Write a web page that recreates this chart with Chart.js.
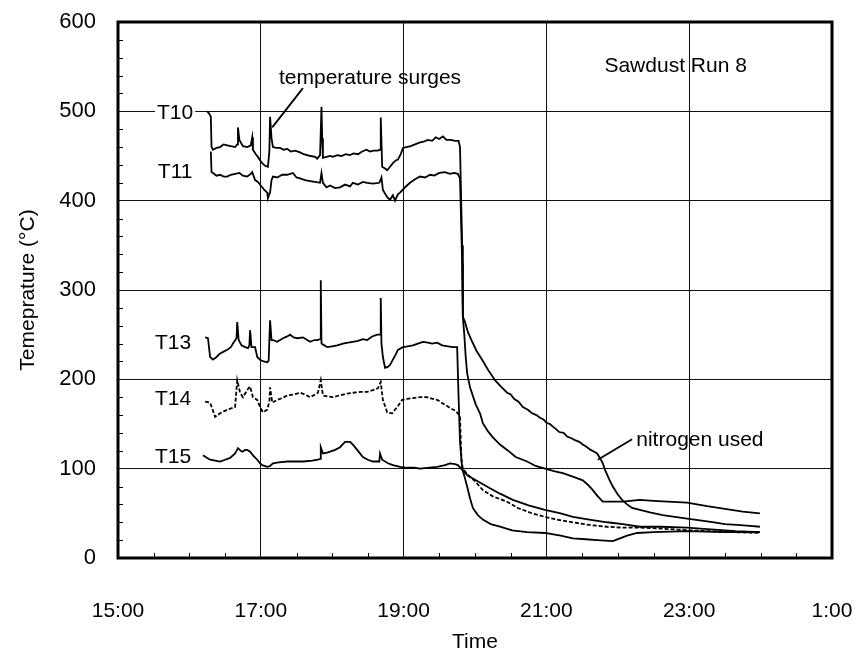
<!DOCTYPE html>
<html>
<head>
<meta charset="utf-8">
<script src="https://cdn.jsdelivr.net/npm/chart.js@4/dist/chart.umd.min.js"></script>
<style>
    html, body { margin: 0; padding: 0; background: #fff; }
    #wrap { width: 861px; height: 658px; }
</style>
</head>
<body>
<div id="wrap"><canvas id="runChart" width="861" height="658"></canvas></div>
<script>
// time is in decimal hours, 25 = 1:00 next day
const t10Hours = [16.25, 16.28, 16.30, 16.31, 16.33, 16.38, 16.43, 16.48, 16.53, 16.58, 16.64, 16.67, 16.68, 16.70, 16.75, 16.81, 16.86, 16.88, 16.89, 16.93, 16.96, 17.00, 17.02, 17.06, 17.10, 17.12, 17.13, 17.15, 17.17, 17.22, 17.27, 17.32, 17.37, 17.42, 17.48, 17.55, 17.60, 17.65, 17.70, 17.76, 17.79, 17.83, 17.85, 17.86, 17.87, 17.92, 17.97, 18.01, 18.07, 18.13, 18.19, 18.25, 18.30, 18.36, 18.42, 18.48, 18.53, 18.58, 18.64, 18.67, 18.68, 18.70, 18.74, 18.77, 18.81, 18.85, 18.89, 18.92, 18.96, 18.99, 19.04, 19.10, 19.16, 19.22, 19.28, 19.34, 19.40, 19.45, 19.50, 19.55, 19.60, 19.66, 19.72, 19.77, 19.79, 19.82, 19.83, 19.86, 19.90, 19.95, 20.02, 20.10, 20.18, 20.28, 20.36, 20.45, 20.50, 20.55, 20.61, 20.67, 20.74, 20.80, 20.86, 20.91, 20.96, 21.01, 21.05, 21.09, 21.14, 21.18, 21.24, 21.29, 21.35, 21.40, 21.46, 21.51, 21.57, 21.62, 21.67, 21.71, 21.75, 21.79, 21.82, 21.88, 21.93, 22.00, 22.06, 22.13, 22.20, 22.31, 22.45, 22.63, 22.80, 22.97, 23.15, 23.35, 23.50, 23.67, 23.85, 23.99];
const t10Temp = [500, 497, 494, 460, 457, 459, 460, 463, 462, 461, 460, 463, 482, 468, 461, 460, 462, 471, 457, 452, 449, 444, 442, 439, 438, 455, 494, 470, 460, 459, 459, 457, 458, 455, 456, 454, 452, 451, 450, 449, 447, 451, 505, 470, 448, 449, 450, 449, 451, 450, 452, 451, 453, 452, 455, 457, 455, 456, 456, 457, 493, 438, 436, 434, 438, 442, 445, 446, 452, 459, 460, 461, 463, 465, 466, 468, 467, 471, 469, 472, 468, 468, 467, 467, 460, 350, 270, 264, 253, 244, 232, 222, 211, 199, 192, 185, 183, 178, 175, 169, 166, 162, 160, 157, 155, 151, 150, 147, 144, 141, 140, 136, 134, 132, 130, 127, 124, 121, 119, 117, 112, 106, 99, 88, 80, 71, 65, 60, 56, 54, 51, 48, 46, 44, 42, 40, 38, 37, 36, 35];

const t11Hours = [16.30, 16.31, 16.33, 16.38, 16.43, 16.48, 16.53, 16.58, 16.64, 16.70, 16.75, 16.81, 16.86, 16.88, 16.92, 16.96, 17.00, 17.05, 17.09, 17.10, 17.13, 17.15, 17.17, 17.23, 17.30, 17.37, 17.45, 17.50, 17.55, 17.62, 17.69, 17.76, 17.83, 17.85, 17.87, 17.92, 17.97, 18.04, 18.11, 18.18, 18.25, 18.29, 18.36, 18.43, 18.49, 18.57, 18.66, 18.69, 18.71, 18.77, 18.81, 18.85, 18.88, 18.92, 18.95, 19.02, 19.09, 19.16, 19.23, 19.30, 19.37, 19.43, 19.50, 19.58, 19.65, 19.71, 19.76, 19.79, 19.82, 19.83, 19.85, 19.87, 19.89, 19.93, 20.01, 20.07, 20.11, 20.18, 20.25, 20.35, 20.45, 20.57, 20.73, 20.85, 20.98, 21.12, 21.23, 21.37, 21.51, 21.58, 21.65, 21.72, 21.79, 21.90, 22.07, 22.31, 22.50, 22.70, 22.97, 23.25, 23.50, 23.75, 23.99];
const t11Temp = [455, 432, 431, 428, 429, 427, 427, 429, 430, 431, 428, 427, 430, 432, 423, 421, 417, 412, 409, 403, 409, 423, 427, 426, 429, 429, 431, 426, 425, 423, 422, 421, 420, 431, 420, 415, 417, 414, 415, 418, 416, 420, 418, 421, 420, 419, 420, 426, 412, 404, 401, 406, 400, 407, 409, 415, 420, 424, 427, 426, 429, 428, 431, 432, 430, 431, 430, 425, 330, 270, 250, 225, 207, 191, 172, 162, 151, 142, 135, 127, 121, 113, 108, 103, 100, 97, 95, 91, 87, 82, 76, 69, 63, 63, 63, 65, 64, 63, 62, 58, 55, 52, 50];

const t13Hours = [16.22, 16.26, 16.28, 16.29, 16.33, 16.38, 16.43, 16.48, 16.53, 16.58, 16.61, 16.66, 16.67, 16.69, 16.73, 16.78, 16.82, 16.84, 16.85, 16.87, 16.92, 16.95, 16.99, 17.04, 17.09, 17.11, 17.13, 17.15, 17.17, 17.23, 17.31, 17.37, 17.41, 17.46, 17.51, 17.59, 17.65, 17.69, 17.75, 17.79, 17.83, 17.84, 17.85, 17.89, 17.93, 18.00, 18.07, 18.15, 18.22, 18.29, 18.36, 18.43, 18.49, 18.56, 18.63, 18.67, 18.68, 18.69, 18.71, 18.74, 18.78, 18.81, 18.85, 18.89, 18.92, 18.99, 19.06, 19.13, 19.20, 19.27, 19.34, 19.40, 19.47, 19.54, 19.62, 19.69, 19.75, 19.77, 19.79, 19.82, 19.85, 19.89, 19.93, 19.97, 20.04, 20.11, 20.22, 20.35, 20.52, 20.73, 20.98, 21.20, 21.37, 21.55, 21.71, 21.93, 22.03, 22.13, 22.27, 22.50, 22.97, 23.50, 23.99];
const t13Temp = [247, 246, 232, 225, 222, 225, 229, 231, 233, 236, 240, 246, 264, 244, 238, 236, 235, 238, 255, 236, 236, 225, 222, 220, 219, 221, 266, 244, 244, 242, 246, 248, 250, 247, 246, 247, 244, 242, 244, 244, 245, 311, 240, 238, 236, 237, 238, 240, 241, 242, 243, 245, 244, 248, 250, 250, 291, 240, 225, 213, 214, 216, 222, 228, 233, 236, 237, 238, 240, 242, 241, 240, 241, 238, 237, 236, 236, 180, 130, 100, 92, 80, 67, 56, 48, 43, 38, 35, 31, 29, 28, 25, 22, 21, 20, 19, 22, 25, 28, 29, 30, 29, 29];

const t14Hours = [16.22, 16.29, 16.33, 16.36, 16.43, 16.53, 16.64, 16.67, 16.71, 16.75, 16.81, 16.85, 16.89, 16.95, 16.99, 17.03, 17.09, 17.12, 17.13, 17.16, 17.23, 17.30, 17.37, 17.45, 17.55, 17.62, 17.69, 17.76, 17.80, 17.84, 17.87, 17.93, 18.01, 18.10, 18.20, 18.29, 18.40, 18.49, 18.57, 18.64, 18.68, 18.71, 18.77, 18.84, 18.91, 18.98, 19.05, 19.13, 19.23, 19.33, 19.41, 19.47, 19.55, 19.65, 19.72, 19.76, 19.79, 19.81, 19.83, 19.90, 20.00, 20.11, 20.25, 20.45, 20.60, 20.80, 20.98, 21.15, 21.37, 21.60, 21.85, 22.07, 22.31, 22.60, 22.97, 23.30, 23.60, 23.99];
const t14Temp = [175, 174, 165, 158, 162, 166, 169, 199, 185, 180, 188, 192, 180, 177, 169, 163, 166, 175, 191, 174, 177, 179, 182, 183, 185, 183, 180, 183, 185, 199, 182, 181, 180, 182, 184, 185, 186, 186, 188, 190, 197, 177, 163, 162, 169, 177, 178, 179, 180, 180, 178, 177, 173, 168, 165, 162, 158, 110, 100, 93, 86, 76, 69, 63, 56, 50, 46, 43, 40, 37, 35, 34, 34, 33, 31, 30, 29, 28];

const t15Hours = [16.19, 16.25, 16.29, 16.36, 16.43, 16.50, 16.57, 16.64, 16.68, 16.72, 16.74, 16.78, 16.81, 16.85, 16.90, 16.95, 16.99, 17.02, 17.09, 17.13, 17.17, 17.25, 17.37, 17.50, 17.60, 17.72, 17.80, 17.83, 17.84, 17.87, 17.93, 17.97, 18.04, 18.11, 18.18, 18.25, 18.30, 18.35, 18.40, 18.43, 18.50, 18.57, 18.64, 18.66, 18.67, 18.70, 18.78, 18.85, 18.95, 19.05, 19.15, 19.23, 19.33, 19.47, 19.58, 19.65, 19.72, 19.76, 19.82, 19.90, 19.97, 20.08, 20.21, 20.35, 20.53, 20.75, 20.98, 21.20, 21.37, 21.60, 21.85, 22.07, 22.31, 22.60, 22.97, 23.30, 23.65, 23.99];
const t15Temp = [115, 112, 110, 109, 108, 110, 112, 117, 123, 120, 119, 121, 121, 119, 114, 110, 106, 104, 102, 103, 106, 107, 108, 108, 108, 109, 110, 111, 124, 117, 118, 119, 121, 124, 130, 130, 126, 121, 116, 113, 110, 108, 108, 108, 117, 110, 106, 104, 102, 101, 101, 100, 101, 102, 104, 106, 105, 104, 99, 92, 89, 84, 78, 72, 65, 59, 54, 50, 46, 43, 40, 38, 35, 35, 34, 32, 30, 29];

const xTicks = [15, 17, 19, 21, 23, 25];
const yTicks = [0, 100, 200, 300, 400, 500, 600];

// text labels, anchored in data units [hour, temp]
const seriesLabels = [
    { text: 'T10', at: [15.8, 498] },
    { text: 'T11', at: [15.8, 432] },
    { text: 'T13', at: [15.77, 241] },
    { text: 'T14', at: [15.77, 178] },
    { text: 'T15', at: [15.77, 113] },
];
const notes = [
    { text: 'temperature surges', at: [18.53, 537], from: [17.59, 526], to: [17.16, 482] },
    { text: 'nitrogen used', at: [23.15, 132], from: [22.2, 133], to: [21.72, 110] },
    { text: 'Sawdust Run 8', at: [22.81, 550] },
];

const FONT = '"Liberation Sans", Arial, sans-serif';

Chart.defaults.font.family = FONT;
Chart.defaults.font.size = 21;
Chart.defaults.color = '#000';

const toPoints = (hours, temps) => hours.map((h, i) => ({ x: h, y: temps[i] }));

const lineStyle = {
    borderColor: '#000',
    borderWidth: 1.8,
    pointRadius: 0,
    fill: false,
    tension: 0,
};

// keep tick labels from pushing the plot area around
const noLabelPadding = scale => {
    scale.paddingLeft = 0;
    scale.paddingRight = 0;
    scale.paddingTop = 0;
    scale.paddingBottom = 0;
};

/**
 * Frame, minor ticks and text annotations
 */
const decorations = {
    id: 'decorations',
    afterDatasetsDraw(chart) {
        const { ctx, chartArea: a, scales: { x, y } } = chart;
        ctx.save();
        ctx.strokeStyle = '#000';

        // minor ticks pointing into the plot
        ctx.lineWidth = 1;
        ctx.beginPath();
        for (let v = 20; v < 600; v += 20) {
            if (v % 100 === 0) continue;
            const py = Math.round(y.getPixelForValue(v)) + 0.5;
            ctx.moveTo(a.left, py);
            ctx.lineTo(a.left + 5, py);
        }
        for (let h = 15.5; h < 25; h += 0.5) {
            if (h % 2 === 1) continue;
            const px = Math.round(x.getPixelForValue(h)) + 0.5;
            ctx.moveTo(px, a.bottom);
            ctx.lineTo(px, a.bottom - 5);
        }
        ctx.stroke();

        // heavy frame
        ctx.lineWidth = 3;
        ctx.strokeRect(a.left, a.top, a.right - a.left, a.bottom - a.top);

        ctx.fillStyle = '#000';
        ctx.font = '21px ' + FONT;
        ctx.textAlign = 'center';
        ctx.textBaseline = 'middle';
        seriesLabels.concat(notes).forEach(n => {
            const px = x.getPixelForValue(n.at[0]);
            const py = y.getPixelForValue(n.at[1]);
            if (n.text.startsWith('T1')) {
                const w = ctx.measureText(n.text).width;
                ctx.fillStyle = '#fff';
                ctx.fillRect(px - w / 2 - 2, py - 9, w + 4, 18);
                ctx.fillStyle = '#000';
            }
            ctx.fillText(n.text, px, py);
            if (n.from) {
                ctx.lineWidth = 1.8;
                ctx.beginPath();
                ctx.moveTo(x.getPixelForValue(n.from[0]), y.getPixelForValue(n.from[1]));
                ctx.lineTo(x.getPixelForValue(n.to[0]), y.getPixelForValue(n.to[1]));
                ctx.stroke();
            }
        });
        ctx.restore();
    },
};

new Chart(document.getElementById('runChart'), {
    type: 'line',
    data: {
        datasets: [
            { label: 'T10', data: toPoints(t10Hours, t10Temp), ...lineStyle },
            { label: 'T11', data: toPoints(t11Hours, t11Temp), ...lineStyle },
            { label: 'T13', data: toPoints(t13Hours, t13Temp), ...lineStyle },
            { label: 'T14', data: toPoints(t14Hours, t14Temp), ...lineStyle, borderDash: [4, 2] },
            { label: 'T15', data: toPoints(t15Hours, t15Temp), ...lineStyle },
        ],
    },
    options: {
        responsive: false,
        animation: false,
        layout: {
            padding: { left: 16, right: 29, top: 22, bottom: 3 },
        },
        plugins: {
            legend: { display: false },
            tooltip: { enabled: false },
        },
        scales: {
            x: {
                type: 'linear',
                min: 15,
                max: 25,
                afterBuildTicks: scale => {
                    scale.ticks = xTicks.map(v => ({ value: v }));
                },
                afterFit: scale => {
                    scale.height = 97;
                    noLabelPadding(scale);
                },
                grid: {
                    color: '#111',
                    lineWidth: 1,
                    drawTicks: false,
                },
                border: { display: false },
                ticks: {
                    padding: 41,
                    maxRotation: 0,
                    callback: v => (v > 24 ? v - 24 : v) + ':00',
                },
                title: {
                    display: true,
                    text: 'Time',
                    font: { size: 21 },
                    padding: { top: 0, bottom: 0 },
                },
            },
            y: {
                min: 0,
                max: 600,
                afterBuildTicks: scale => {
                    scale.ticks = yTicks.map(v => ({ value: v }));
                },
                afterFit: scale => {
                    scale.width = 102;
                    noLabelPadding(scale);
                },
                grid: {
                    color: '#111',
                    lineWidth: 1,
                    drawTicks: false,
                },
                border: { display: false },
                ticks: {
                    padding: 22,
                    font: { size: 22 },
                },
                title: {
                    display: true,
                    text: 'Temeprature (°C)',
                    font: { size: 21 },
                    padding: { top: 0, bottom: 0 },
                },
            },
        },
    },
    plugins: [decorations],
});
</script>
</body>
</html>
